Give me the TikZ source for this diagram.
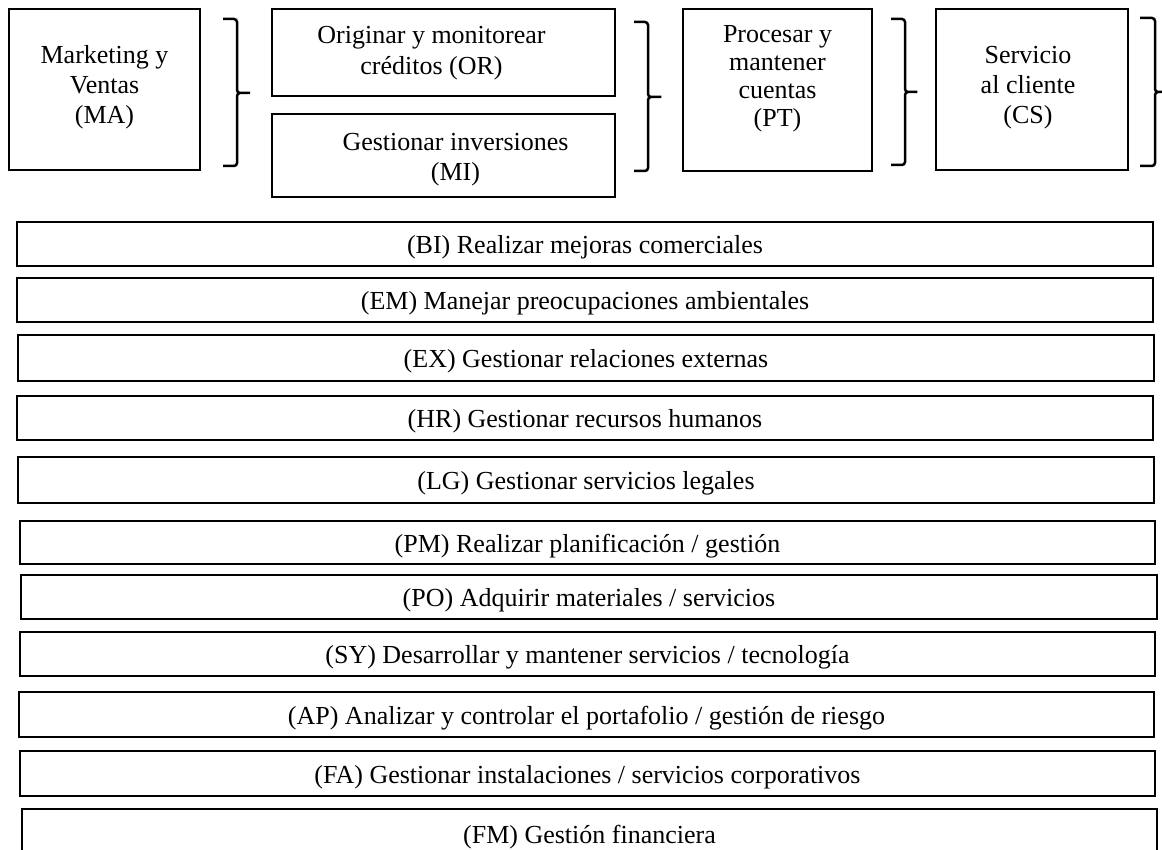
\documentclass[tikz,border=0pt]{standalone}
\usepackage{fontspec}
\setmainfont{Liberation Serif}
\tikzset{
	% boxes
	box/.style={draw=black,line width=2.8pt,inner sep=0pt},
	txt/.style={align=center,inner sep=0pt,font=\fontsize{26}{30}\selectfont},
	row/.style={box,align=center,text height=25pt,text depth=6pt,font=\fontsize{26}{30}\selectfont},
	% bracket between the boxes
	brc/.style={line width=2.5pt,rounded corners=3pt},
}

\begin{document}
\begin{tikzpicture}[x=1pt,y=-1pt]
\useasboundingbox (0,0) rectangle (1162,850);
\clip (0,0) rectangle (1162,850);
% the chain on top
\node[box,minimum width=191,minimum height=161] (MA) at (104.5,89.5) {};
\node[txt] (MAt) at ([yshift=2pt]MA.center) {Marketing y\\Ventas\\(MA)};
\node[box,minimum width=343,minimum height=87] (OR) at (443.5,52.5) {};
\node[txt,font=\fontsize{26}{31}\selectfont] (ORt) at ([xshift=-12pt,yshift=-1pt]OR.center) {Originar y monitorear\\créditos (OR)};
\node[box,minimum width=343,minimum height=83] (MI) at (443.5,155.5) {};
\node[txt] (MIt) at ([xshift=12pt,yshift=-4pt]MI.center) {Gestionar inversiones\\(MI)};
\node[box,minimum width=189,minimum height=162] (PT) at (777.5,90) {};
\node[txt,font=\fontsize{26}{28}\selectfont] (PTt) at ([yshift=11pt]PT.center) {Procesar y\\mantener\\cuentas\\(PT)};
\node[box,minimum width=192,minimum height=161] (CS) at (1032,89.5) {};
\node[txt] (CSt) at ([xshift=-4pt,yshift=2pt]CS.center) {Servicio\\al cliente\\(CS)};
% brackets
\foreach \l/\v/\t/\ya/\ym/\yb in {223/237/252/19/93/166, 634/648/663/22/97/171,
                                  891/905/919/19/92/165, 1140/1155/1170/18/92/166}
  \draw[brc] (\l,\ya) -- (\v,\ya) -- (\v,\ym) -- (\t,\ym) -- (\v,\ym) -- (\v,\yb) -- (\l,\yb);
% the support rows
\foreach \nm/\xl/\yt/\xr/\yb/\txt in {
    BI/17/222/1153/266/{(BI) Realizar mejoras comerciales},
    EM/17/278/1153/322/{(EM) Manejar preocupaciones ambientales},
    EX/18/335/1154/381/{(EX) Gestionar relaciones externas},
    HR/17/396/1153/440/{(HR) Gestionar recursos humanos},
    LG/18/457/1154/503/{(LG) Gestionar servicios legales},
    PM/20/521/1155/564/{(PM) Realizar planificación / gestión},
    PO/21/575/1157/619/{(PO) Adquirir materiales / servicios},
    SY/20/632/1155/676/{(SY) Desarrollar y mantener servicios / tecnología},
    AP/19/692/1154/737/{(AP) Analizar y controlar el portafolio / gestión de riesgo},
    FA/20/751/1155/796/{(FA) Gestionar instalaciones / servicios corporativos},
    FM/22/809/1157/859/{(FM) Gestión financiera}}
  \node[row,minimum width={\xr-\xl},minimum height={\yb-\yt}] (\nm) at ({(\xl+\xr)/2},{(\yt+\yb)/2}) {\txt};
\end{tikzpicture}
\end{document}
